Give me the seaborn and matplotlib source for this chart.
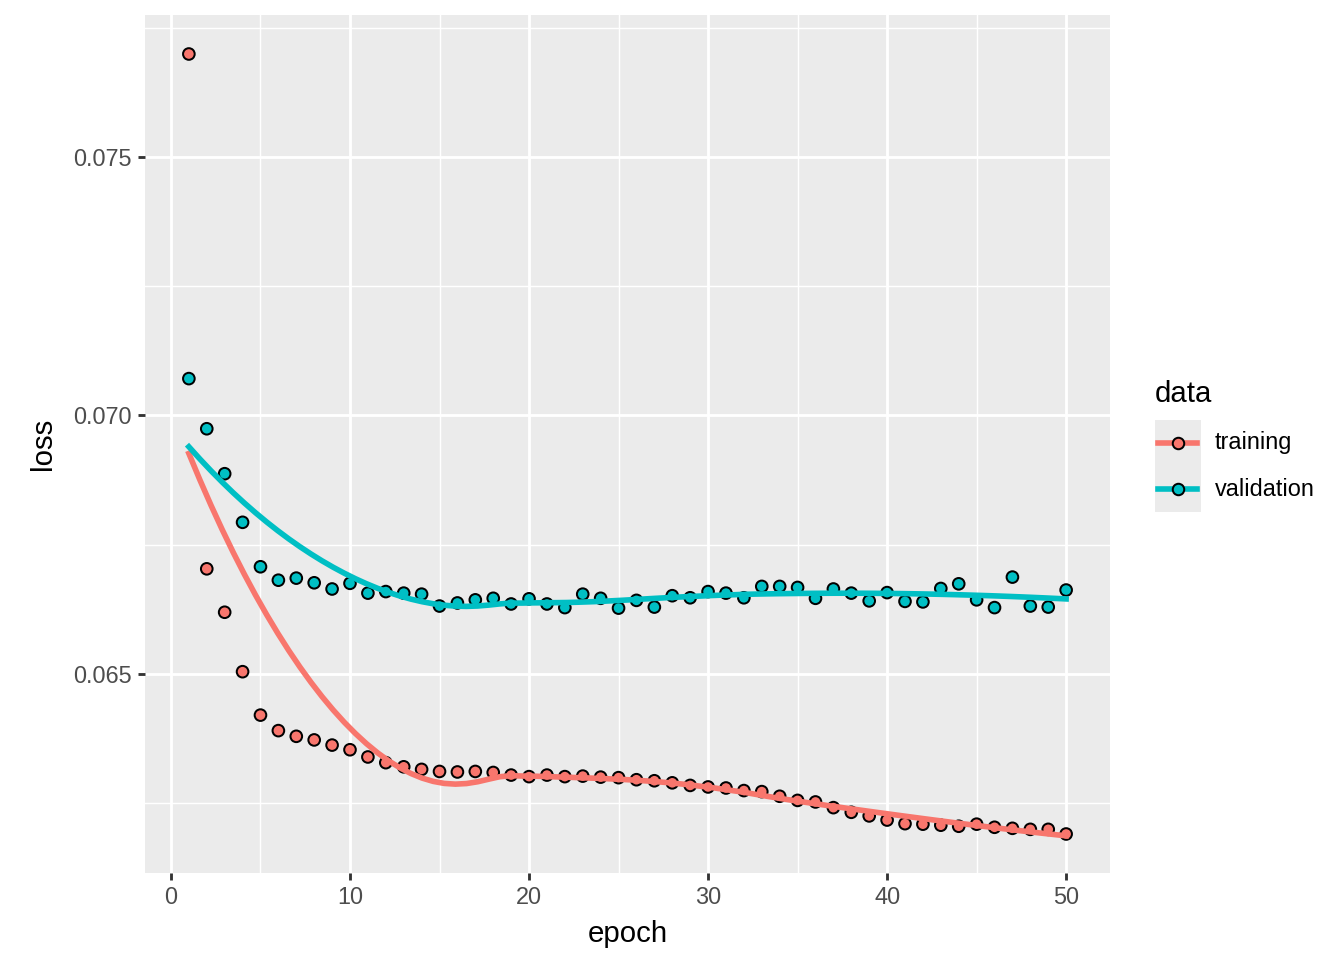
import numpy as np
import pandas as pd
import matplotlib
matplotlib.use("Agg")
import matplotlib.pyplot as plt
from matplotlib.lines import Line2D
from matplotlib.patches import Rectangle
import seaborn as sns

epochs = list(range(1, 51))
training_loss = [
    0.07699, 0.06703, 0.06619, 0.06504, 0.06420, 0.06390, 0.06379, 0.06372, 0.06362, 0.06353,
    0.06339, 0.06328, 0.06320, 0.06315, 0.06311, 0.06310, 0.06311, 0.06309, 0.06304, 0.06301,
    0.06304, 0.06301, 0.06302, 0.06300, 0.06299, 0.06295, 0.06293, 0.06289, 0.06284, 0.06281,
    0.06279, 0.06274, 0.06272, 0.06263, 0.06255, 0.06252, 0.06241, 0.06232, 0.06225, 0.06217,
    0.06210, 0.06209, 0.06207, 0.06205, 0.06209, 0.06203, 0.06201, 0.06199, 0.06199, 0.06190,
]
validation_loss = [
    0.07071, 0.06974, 0.06887, 0.06793, 0.06707, 0.06681, 0.06685, 0.06676, 0.06664, 0.06675,
    0.06656, 0.06659, 0.06656, 0.06654, 0.06631, 0.06637, 0.06643, 0.06646, 0.06635, 0.06645,
    0.06635, 0.06628, 0.06654, 0.06646, 0.06627, 0.06642, 0.06629, 0.06651, 0.06647, 0.06659,
    0.06656, 0.06647, 0.06669, 0.06669, 0.06667, 0.06646, 0.06664, 0.06656, 0.06641, 0.06657,
    0.06640, 0.06639, 0.06665, 0.06674, 0.06643, 0.06628, 0.06687, 0.06631, 0.06629, 0.06662,
]
series_names = ["training", "validation"]
palette = {"training": "#F8766D", "validation": "#00BFC4"}
x_ticks = [0, 10, 20, 30, 40, 50]
y_ticks = [0.065, 0.070, 0.075]
y_tick_labels = ["0.065", "0.070", "0.075"]


def loess(x, y, xs, span=0.75):
    x = np.asarray(x, float)
    y = np.asarray(y, float)
    n = len(x)
    q = int(np.floor(span * n))
    out = []
    for x0 in xs:
        d = np.abs(x - x0)
        h = np.sort(d)[q - 1]
        w = np.clip(1 - (d / h) ** 3, 0, None) ** 3
        X = np.column_stack([np.ones(n), x - x0, (x - x0) ** 2])
        W = np.sqrt(w)
        beta, *_ = np.linalg.lstsq(X * W[:, None], y * W, rcond=None)
        out.append(beta[0])
    return np.array(out)


df = pd.DataFrame({
    "epoch": epochs * 2,
    "loss": training_loss + validation_loss,
    "data": ["training"] * len(epochs) + ["validation"] * len(epochs),
})

xs = np.linspace(min(epochs), max(epochs), 80)
smooth = pd.concat([
    pd.DataFrame({"epoch": xs,
                  "loss": loess(epochs, training_loss if name == "training" else validation_loss, xs),
                  "data": name})
    for name in series_names
])

plt.rcParams["font.family"] = ["Liberation Sans", "DejaVu Sans"]

fig = plt.figure(figsize=(7, 5), dpi=192)
ax = fig.add_axes([145 / 1344, 87 / 960, (1110 - 145) / 1344, (873 - 15) / 960])
ax.set_facecolor("#EBEBEB")

sns.scatterplot(data=df, x="epoch", y="loss", hue="data", palette=palette,
                s=19, edgecolor="black", linewidth=0.75, ax=ax, legend=False, zorder=3)
sns.lineplot(data=smooth, x="epoch", y="loss", hue="data", palette=palette,
             linewidth=2.1, ax=ax, legend=False, zorder=4, sort=False)

# limits with ggplot-like 5% expansion
xr = max(epochs) - min(epochs)
ax.set_xlim(min(epochs) - 0.05 * xr, max(epochs) + 0.05 * xr)
all_y = training_loss + validation_loss
yr = max(all_y) - min(all_y)
ax.set_ylim(min(all_y) - 0.05 * yr, max(all_y) + 0.05 * yr)

ax.set_xticks(x_ticks)
ax.set_yticks(y_ticks)
ax.set_yticklabels(y_tick_labels)
ax.set_xticks([5, 15, 25, 35, 45], minor=True)
ax.set_yticks([0.0625, 0.0675, 0.0725, 0.0775], minor=True)
ax.grid(which="major", color="white", linewidth=1.07)
ax.grid(which="minor", color="white", linewidth=0.53)
ax.set_axisbelow(True)
for sp in ax.spines.values():
    sp.set_visible(False)
ax.tick_params(which="major", length=2.75, width=1.07, color="#333333",
               labelsize=8.8, labelcolor="#4D4D4D", pad=2.2)
ax.tick_params(which="minor", length=0)
ax.set_xlabel("epoch", fontsize=11, color="black", labelpad=4)
ax.set_ylabel("loss", fontsize=11, color="black", labelpad=6)

# legend (ggplot-like)
W, H = 1344, 960
fig.text(1155 / W, 1 - 402 / H, "data", fontsize=11, ha="left", va="baseline")
fig.patches.append(Rectangle((1155 / W, 1 - 512 / H), 46 / W, 92 / H,
                             transform=fig.transFigure, facecolor="#EBEBEB",
                             edgecolor="none", zorder=1))
for i, name in enumerate(series_names):
    yk = 1 - (443 + 46 * i) / H
    fig.add_artist(Line2D([1158 / W, 1197 / W], [yk, yk], transform=fig.transFigure,
                          color=palette[name], linewidth=2.1, zorder=2))
    fig.add_artist(Line2D([1177.5 / W], [yk], transform=fig.transFigure, marker="o",
                          markersize=4.3, markerfacecolor=palette[name],
                          markeredgecolor="black", markeredgewidth=0.75, zorder=3))
    fig.text(1215 / W, yk, name, fontsize=8.8, ha="left", va="center", color="black")

fig.savefig("out.png", dpi=192)
